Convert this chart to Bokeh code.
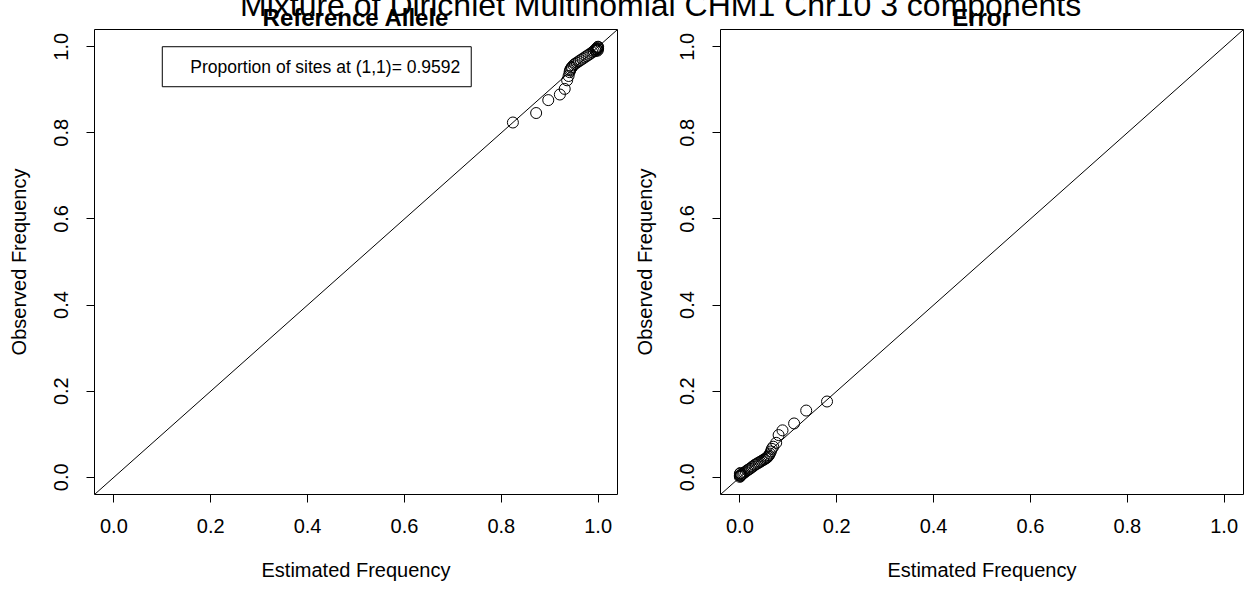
from bokeh.plotting import figure
from bokeh.models import Range1d, Label, Div, FixedTicker, Slope, NumeralTickFormatter
from bokeh.layouts import column, row
from bokeh.embed import file_html
from bokeh.resources import INLINE

MAIN_TITLE = "Mixture of Dirichlet Multinomial CHM1 Chr10 3 components"
PANEL_TITLES = ["Reference Allele", "Error"]
X_LABEL = "Estimated Frequency"
Y_LABEL = "Observed Frequency"
TICKS = [0.0, 0.2, 0.4, 0.6, 0.8, 1.0]
LEGEND_TEXT = "Proportion of sites at (1,1)= 0.9592"

# Reference allele: estimated vs observed frequency
ref_est = [0.824, 0.872, 0.897, 0.921, 0.931, 0.936, 0.939, 0.941, 0.942, 0.943,
           0.945, 0.946, 0.949, 0.952, 0.956, 0.960, 0.964, 0.968, 0.972, 0.976,
           0.980, 0.984, 0.988, 0.991, 0.994, 0.996, 0.998, 0.999, 1.000, 1.000,
           0.999, 0.998, 0.995]
ref_obs = [0.824, 0.846, 0.876, 0.889, 0.902, 0.922, 0.932, 0.941, 0.945, 0.948,
           0.951, 0.953, 0.957, 0.960, 0.963, 0.966, 0.969, 0.972, 0.975, 0.978,
           0.981, 0.984, 0.987, 0.990, 0.993, 0.995, 0.997, 0.999, 1.000, 0.995,
           0.991, 0.993, 0.990]

# Error: estimated vs observed frequency
err_est = [0.180, 0.137, 0.112, 0.088, 0.080, 0.075, 0.069, 0.066, 0.064, 0.062,
           0.060, 0.058, 0.056, 0.054, 0.051, 0.048, 0.045, 0.042, 0.039, 0.036,
           0.033, 0.030, 0.027, 0.024, 0.021, 0.018, 0.015, 0.012, 0.009, 0.007,
           0.005, 0.003, 0.002, 0.001, 0.000, 0.000, 0.000, 0.001]
err_obs = [0.176, 0.155, 0.125, 0.109, 0.098, 0.080, 0.071, 0.066, 0.060, 0.055,
           0.051, 0.048, 0.046, 0.044, 0.042, 0.040, 0.038, 0.036, 0.034, 0.032,
           0.030, 0.028, 0.025, 0.023, 0.020, 0.018, 0.016, 0.013, 0.011, 0.009,
           0.007, 0.006, 0.004, 0.003, 0.001, 0.004, 0.008, 0.010]

FONT = "Liberation Sans"
FIG_H = 588


def make_panel(est, obs, width, border_left, border_right):
    p = figure(width=width, height=FIG_H,
               x_range=Range1d(-0.04, 1.04), y_range=Range1d(-0.04, 1.04),
               output_backend="svg", toolbar_location=None,
               min_border_left=border_left, min_border_right=border_right,
               min_border_top=29, min_border_bottom=FIG_H - 29 - 465)
    p.border_fill_color = None
    p.background_fill_color = "white"
    p.outline_line_color = "black"
    p.outline_line_width = 1
    p.grid.visible = False
    for ax in (p.xaxis[0], p.yaxis[0]):
        ax.ticker = FixedTicker(ticks=TICKS)
        ax.formatter = NumeralTickFormatter(format="0.0")
        ax.axis_line_color = None
        ax.major_tick_in = 0
        ax.major_tick_out = 8
        ax.major_tick_line_color = "black"
        ax.minor_tick_line_color = None
        ax.major_label_text_font = FONT
        ax.major_label_text_font_size = "20px"
        ax.major_label_text_color = "black"
        ax.axis_label_text_font = FONT
        ax.axis_label_text_font_size = "20px"
        ax.axis_label_text_font_style = "normal"
        ax.axis_label_text_color = "black"
    p.xaxis.axis_label = X_LABEL
    p.yaxis.axis_label = Y_LABEL
    p.yaxis.major_label_orientation = "vertical"
    p.xaxis.major_label_standoff = 16
    p.yaxis.major_label_standoff = 18
    p.xaxis.axis_label_standoff = 23
    p.yaxis.axis_label_standoff = 22

    p.add_layout(Slope(gradient=1, y_intercept=0, line_color="black", line_width=1))
    p.scatter(est, obs, size=11, marker="circle", fill_color=None,
              line_color="black", line_width=1)
    return p


p1 = make_panel(ref_est, ref_obs, 630, 94, 13)
p1.add_layout(Label(x=0.1, y=1.0, text=LEGEND_TEXT,
                    text_align="left", text_baseline="top",
                    text_font=FONT, text_font_size="17.5px", text_color="black",
                    padding=(28, 11, 10, 10),
                    border_line_color="black", border_line_width=1,
                    background_fill_color="white"))
p2 = make_panel(err_est, err_obs, 622, 90, 9)

FONT_CSS = "font-family:'Liberation Sans', Arial, sans-serif; color:black; white-space:nowrap;"
html = (
    '<div style="position:relative; width:1252px; height:0;">'
    '<div style="position:absolute; left:240px; top:-23px; font-size:32px; line-height:32px; '
    + FONT_CSS + '">' + MAIN_TITLE + '</div>'
    '<div style="position:absolute; left:94px; width:523px; top:-6px; text-align:center; '
    'font-size:24px; line-height:24px; font-weight:bold; ' + FONT_CSS + '">'
    + PANEL_TITLES[0] + '</div>'
    '<div style="position:absolute; left:720px; width:523px; top:-6px; text-align:center; '
    'font-size:24px; line-height:24px; font-weight:bold; ' + FONT_CSS + '">'
    + PANEL_TITLES[1] + '</div>'
    '</div>'
)
title_div = Div(text=html, width=1252, height=0, margin=0, styles={"overflow": "visible"})

layout = column(title_div, row(p1, p2, spacing=0), spacing=0)

open("out.html", "w").write(file_html(layout, INLINE))
